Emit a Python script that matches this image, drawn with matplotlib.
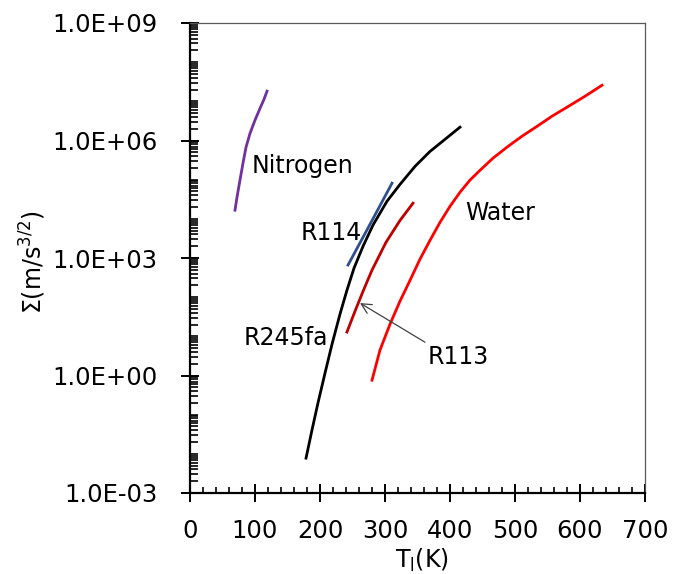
import numpy as np
import matplotlib
matplotlib.use('Agg')
import matplotlib.pyplot as plt
from matplotlib.ticker import FixedLocator, MultipleLocator, LogLocator, FuncFormatter, NullFormatter

plt.rcParams['font.family'] = ['DejaVu Sans']
plt.rcParams['mathtext.fontset'] = 'dejavusans'

# Curves: liquid temperature (K) and log10 of Sigma
nitrogen_T = [69.2, 72.3, 76.9, 81.5, 86.2, 92.3, 100.0, 107.7, 113.8, 118.5]
nitrogen_logS = [4.22, 4.55, 4.99, 5.42, 5.83, 6.18, 6.52, 6.82, 7.05, 7.26]

r245fa_T = [178.5, 187.7, 196.9, 207.7, 218.5, 230.8, 241.5, 252.3, 266.2, 281.5,
            303.1, 323.1, 346.2, 369.2, 392.3, 415.4]
r245fa_logS = [-2.11, -1.39, -0.70, 0.06, 0.80, 1.57, 2.18, 2.74, 3.30, 3.84,
               4.45, 4.88, 5.34, 5.72, 6.03, 6.34]

r114_T = [243.1, 276.9, 310.8]
r114_logS = [2.82, 3.86, 4.91]

r113_T = [241.5, 253.8, 266.2, 280.0, 301.5, 323.1, 343.1]
r113_logS = [1.11, 1.64, 2.15, 2.69, 3.40, 3.96, 4.40]

water_T = [280.0, 292.3, 307.7, 323.1, 338.5, 353.8, 369.2, 384.6, 400.0, 415.4,
           430.8, 446.2, 466.2, 487.7, 510.8, 533.8, 556.9, 580.0, 607.7, 633.8]
water_logS = [-0.12, 0.65, 1.31, 1.90, 2.43, 2.97, 3.45, 3.91, 4.32, 4.68,
              4.99, 5.24, 5.55, 5.83, 6.11, 6.36, 6.62, 6.85, 7.13, 7.41]

y_major = [1e-3, 1e0, 1e3, 1e6, 1e9]

fig = plt.figure(figsize=(6.75, 5.74), dpi=100)
ax = fig.add_axes([190/675, 1 - 493/574, (645 - 190)/675, (493 - 23)/574])

lw = 2.0
ax.plot(nitrogen_T, 10**np.array(nitrogen_logS), color='#7030A0', lw=lw)
ax.plot(r245fa_T, 10**np.array(r245fa_logS), color='black', lw=lw)
ax.plot(r114_T, 10**np.array(r114_logS), color='#2F4F8F', lw=lw)
ax.plot(r113_T, 10**np.array(r113_logS), color='#C00000', lw=lw)
ax.plot(water_T, 10**np.array(water_logS), color='#FF0000', lw=lw)

ax.set_yscale('log')
ax.set_xlim(0, 700)
ax.set_ylim(1e-3, 1e9)

ax.xaxis.set_major_locator(MultipleLocator(100))
ax.xaxis.set_minor_locator(MultipleLocator(20))
ax.yaxis.set_major_locator(FixedLocator(y_major))
ax.yaxis.set_minor_locator(LogLocator(base=10, subs=np.arange(1, 10), numticks=100))
ax.yaxis.set_minor_formatter(NullFormatter())
ax.yaxis.set_major_formatter(FuncFormatter(lambda v, pos: '%.1E' % v))

ax.tick_params(which='major', direction='inout', length=13, width=1.4, labelsize=17.5)
ax.tick_params(axis='x', which='major', pad=12)
ax.tick_params(axis='y', which='major', pad=17)
ax.tick_params(axis='x', which='minor', direction='in', length=4.5, width=1.2)
ax.tick_params(axis='y', which='minor', direction='in', length=5.5, width=1.2)
ax.tick_params(top=False, right=False)

for side in ['left', 'bottom']:
    ax.spines[side].set_linewidth(1.6)
    ax.spines[side].set_color('black')
for side in ['top', 'right']:
    ax.spines[side].set_linewidth(0.9)
    ax.spines[side].set_color('#595959')

fig.text(422/675, 1 - 560/574, 'T$_{\\mathregular{l}}$(K)', fontsize=17, ha='center', va='center')
fig.text(33/675, 1 - 262/574, '\u03a3(m/s$^{\\mathregular{3/2}}$)', fontsize=17,
         rotation=90, ha='center', va='center')

txt = dict(fontsize=17, color='black', va='center_baseline', ha='left')
ax.text(95.4, 10**5.42, 'Nitrogen', **txt)
ax.text(170.0, 10**3.70, 'R114', **txt)
ax.text(83.0, 10**1.02, 'R245fa', **txt)
ax.text(423.1, 10**4.21, 'Water', **txt)
ax.text(366.2, 10**0.54, 'R113', **txt)
ax.annotate('', xy=(261.5, 10**1.85), xytext=(361.5, 10**0.85),
            arrowprops=dict(arrowstyle='->', color='#404040', lw=0.9,
                            mutation_scale=18, shrinkA=0, shrinkB=0))

fig.savefig('out.png', dpi=100)
